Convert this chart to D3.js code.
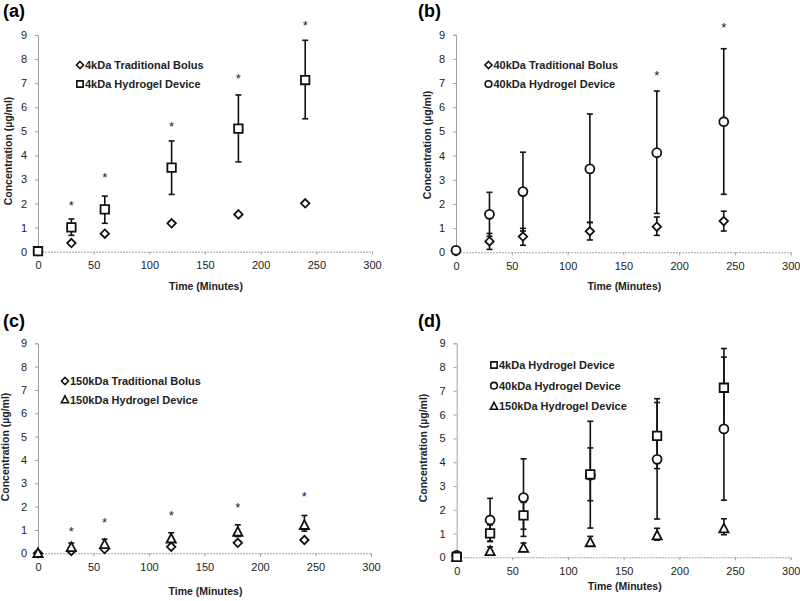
<!DOCTYPE html>
<html><head><meta charset="utf-8">
<script src="https://cdn.jsdelivr.net/npm/d3@7"></script>
<style>
body{margin:0;background:#fff;}
svg{display:block;font-family:Arial,"Liberation Sans",sans-serif;}
</style></head><body>
<svg id="c" width="800" height="601"></svg>
<script>
const times = [0, 30, 60, 120, 180, 240];
const xTicks = [0, 50, 100, 150, 200, 250, 300];
const yTicks = [0, 1, 2, 3, 4, 5, 6, 7, 8, 9];

const bolus4 = [0.02, 0.36, 0.75, 1.18, 1.55, 2.01];
const hydro4 = [0.02, 1.01, 1.76, 3.49, 5.11, 7.13];
const hydro4Lo = [0.02, 0.68, 1.18, 2.38, 3.73, 5.52];
const hydro4Hi = [0.02, 1.36, 2.31, 4.60, 6.51, 8.78];
const star4 = [null, 2.03, 3.2, 5.3, 7.3, 9.5];

const bolus40 = [0.05, 0.45, 0.65, 0.87, 1.06, 1.29];
const bolus40Lo = [0.05, 0.12, 0.29, 0.51, 0.70, 0.88];
const bolus40Hi = [0.05, 0.78, 0.99, 1.24, 1.46, 1.70];
const hydro40 = [0.08, 1.57, 2.51, 3.45, 4.12, 5.40];
const hydro40Lo = [0.08, 0.66, 0.88, 1.23, 1.61, 2.40];
const hydro40Hi = [0.08, 2.48, 4.14, 5.72, 6.67, 8.42];
const star40 = [null, null, null, null, 7.4, 9.4];

const bolus150 = [0.0, 0.1, 0.18, 0.28, 0.45, 0.57];
const hydro150 = [0.02, 0.27, 0.4, 0.64, 0.93, 1.22];
const hydro150Lo = [0.02, 0.12, 0.24, 0.48, 0.72, 0.95];
const hydro150Hi = [0.02, 0.44, 0.6, 0.88, 1.22, 1.62];
const star150 = [null, 1.06, 1.42, 1.71, 2.07, 2.53];

const svg = d3.select("#c");

// symbol types
const diamondType = {draw(ctx, size){ const r = Math.sqrt(size)/2; ctx.moveTo(0,-r); ctx.lineTo(r,0); ctx.lineTo(0,r); ctx.lineTo(-r,0); ctx.closePath(); }};
const squareType = {draw(ctx, size){ const h = Math.sqrt(size)/2; ctx.moveTo(-h,-h); ctx.lineTo(h,-h); ctx.lineTo(h,h); ctx.lineTo(-h,h); ctx.closePath(); }};
const circleType = {draw(ctx, size){ const r = Math.sqrt(size)/2; ctx.moveTo(r,0); ctx.arc(0,0,r,0,2*Math.PI); }};
const triangleType = {draw(ctx, size){ const w = Math.sqrt(size); const h = w*0.9; ctx.moveTo(0,-h/2-0.5); ctx.lineTo(w/2,h/2); ctx.lineTo(-w/2,h/2); ctx.closePath(); }};

const shapes = {diamond: diamondType, square: squareType, circle: circleType, triangle: triangleType};
const plotSize = {diamond: 72, square: 72, circle: 80, triangle: 85};
const legSize = {diamond: 50, square: 40, circle: 44, triangle: 50};

const panels = [
  {label: "(a)", lx: 3, ly: 17, x0: 38, x1: 372, y0: 251.7, y1: 35, ytx: 8, yty: 151, xty: 290,
   series: [
     {name: "4kDa Traditional Bolus", shape: "diamond", v: bolus4},
     {name: "4kDa Hydrogel Device", shape: "square", v: hydro4, lo: hydro4Lo, hi: hydro4Hi}
   ], stars: star4, legX: 80, legY: [65, 84]},
  {label: "(b)", lx: 418, ly: 17, x0: 456, x1: 790.7, y0: 252.3, y1: 34.7, ytx: 427, yty: 145, xty: 290,
   series: [
     {name: "40kDa Traditional Bolus", shape: "diamond", v: bolus40, lo: bolus40Lo, hi: bolus40Hi},
     {name: "40kDa Hydrogel Device", shape: "circle", v: hydro40, lo: hydro40Lo, hi: hydro40Hi}
   ], stars: star40, legX: 488.5, legY: [65, 84]},
  {label: "(c)", lx: 3, ly: 327, x0: 38, x1: 371, y0: 553.3, y1: 343.3, ytx: 5, yty: 447, xty: 595,
   series: [
     {name: "150kDa Traditional Bolus", shape: "diamond", v: bolus150},
     {name: "150kDa Hydrogel Device", shape: "triangle", v: hydro150, lo: hydro150Lo, hi: hydro150Hi}
   ], stars: star150, legX: 65, legY: [381, 399.5]},
  {label: "(d)", lx: 418, ly: 327, x0: 456.7, x1: 790.7, y0: 557.3, y1: 343.3, ytx: 423, yty: 448, xty: 590,
   series: [
     {name: "150kDa Hydrogel Device", shape: "triangle", v: hydro150, lo: hydro150Lo, hi: hydro150Hi, leg: 2},
     {name: "40kDa Hydrogel Device", shape: "circle", v: hydro40, lo: hydro40Lo, hi: hydro40Hi, leg: 1},
     {name: "4kDa Hydrogel Device", shape: "square", v: hydro4, lo: hydro4Lo, hi: hydro4Hi, leg: 0}
   ], stars: null, legX: 494, legY: [365, 385.7, 406]}
];

panels.forEach(p => {
  const x = d3.scaleLinear().domain([0, 300]).range([p.x0, p.x1]);
  const y = d3.scaleLinear().domain([0, 9]).range([p.y0, p.y1]);
  const g = svg.append("g");

  // panel label
  g.append("text").attr("x", p.lx).attr("y", p.ly).attr("font-size", 18).attr("font-weight", "bold").text(p.label);

  // axes
  const ya = d3.axisLeft(y).tickValues(yTicks).tickFormat(d3.format("d")).tickSize(3).tickPadding(8);
  const xa = d3.axisBottom(x).tickValues(xTicks).tickFormat(d3.format("d")).tickSize(3).tickPadding(7);
  const gy = g.append("g").attr("transform", `translate(${p.x0},0)`).call(ya);
  const gx = g.append("g").attr("transform", `translate(0,${p.y0})`).call(xa);
  [gx, gy].forEach(a => {
    a.select(".domain").attr("stroke", "#a0a0a0").attr("stroke-dasharray", "2,1");
    a.selectAll(".tick line").attr("stroke", "#a0a0a0");
    a.selectAll(".tick text").attr("font-size", 11).attr("fill", "#222").attr("font-family", "Arial,'Liberation Sans',sans-serif");
  });
  gy.select(".domain").attr("stroke-dasharray", null);

  // axis titles
  g.append("text").attr("transform", `translate(${p.ytx + 4},${p.yty}) rotate(-90)`)
    .attr("text-anchor", "middle").attr("font-size", 10.5).attr("font-weight", "bold").attr("fill", "#222")
    .text("Concentration (µg/ml)");
  g.append("text").attr("x", (p.x0 + p.x1) / 2 + 1).attr("y", p.xty).attr("text-anchor", "middle")
    .attr("font-size", 10.5).attr("font-weight", "bold").attr("fill", "#222").text("Time (Minutes)");

  // error bars
  p.series.forEach(s => {
    if (!s.lo) return;
    const eg = g.append("g").attr("stroke", "#111").attr("stroke-width", 1.6);
    times.forEach((t, i) => {
      if (s.hi[i] - s.lo[i] < 0.05) return;
      eg.append("line").attr("x1", x(t)).attr("x2", x(t)).attr("y1", y(s.lo[i])).attr("y2", y(s.hi[i]));
      eg.append("line").attr("x1", x(t) - 3).attr("x2", x(t) + 3).attr("y1", y(s.lo[i])).attr("y2", y(s.lo[i]));
      eg.append("line").attr("x1", x(t) - 3).attr("x2", x(t) + 3).attr("y1", y(s.hi[i])).attr("y2", y(s.hi[i]));
    });
  });

  // markers
  p.series.forEach(s => {
    const sym = d3.symbol().type(shapes[s.shape]).size(plotSize[s.shape]);
    g.append("g").selectAll("path").data(times).join("path")
      .attr("transform", (t, i) => `translate(${x(t)},${y(s.v[i])})`)
      .attr("d", sym).attr("fill", "#fff").attr("stroke", "#111").attr("stroke-width", 1.8);
  });

  // asterisks
  if (p.stars) {
    g.append("g").selectAll("text").data(times.filter((t, i) => p.stars[i] != null)).join("text")
      .attr("x", t => x(t)).attr("y", t => y(p.stars[times.indexOf(t)]) + 7)
      .attr("text-anchor", "middle").attr("font-size", 13).attr("fill", "#222").text("*");
  }

  // legend
  p.series.forEach((s, k) => {
    const li = s.leg != null ? s.leg : k;
    const ly = p.legY[li];
    const sym = d3.symbol().type(shapes[s.shape]).size(legSize[s.shape]);
    g.append("path").attr("transform", `translate(${p.legX},${ly})`).attr("d", sym)
      .attr("fill", "#fff").attr("stroke", "#111").attr("stroke-width", 1.6);
    g.append("text").attr("x", p.legX + 5).attr("y", ly + 4).attr("font-size", 11).attr("font-weight", "bold")
      .attr("fill", "#222").text(s.name);
  });
});
</script>
</body></html>
